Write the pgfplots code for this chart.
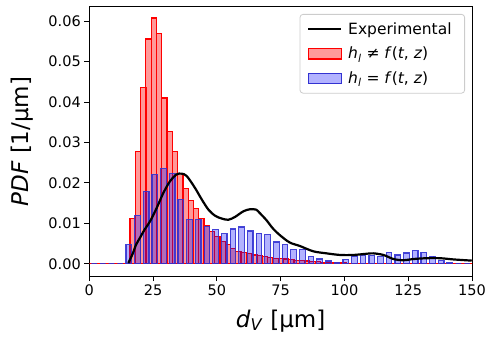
\documentclass[border=0pt]{standalone}
\usepackage{pgfplots}
\pgfplotsset{compat=1.18}
\usepackage{fontspec}
\setmainfont{DejaVu Sans}
\definecolor{bedge}{RGB}{50,50,210}
\definecolor{legframe}{RGB}{204,204,204}
\pgfplotsset{
  lineleg/.style={legend image code/.code={\draw[sharp corners,##1] (0bp,0bp) -- (33bp,0bp);}},
  patchleg/.style={legend image code/.code={\draw[sharp corners,##1] (0bp,-5.3bp) rectangle (33bp,5.3bp);}},
}
\begin{document}
\begin{tikzpicture}
\path[use as bounding box] (-89.3bp,-62bp) rectangle (397.7bp,276bp);
\begin{axis}[
  at={(0,0)}, anchor=south west,
  scale only axis, width=382.7bp, height=269bp,
  xmin=0, xmax=150, ymin=-0.003, ymax=0.0635,
  xtick={0,25,50,75,100,125,150},
  ytick={0,0.01,0.02,0.03,0.04,0.05,0.06},
  yticklabels={0.00,0.01,0.02,0.03,0.04,0.05,0.06},
  scaled y ticks=false,
  tick pos=left, tick align=outside,
  major tick length=5bp,
  axis line style={line width=1bp},
  every tick/.style={black, line width=1bp},
  /pgf/number format/assume math mode=true,
  tick label style={font=\fontsize{14.5bp}{17bp}\selectfont},
  every axis y label/.style={at={(axis description cs:-0.176,0.5)}, rotate=90, anchor=center},
  every axis x label/.style={at={(axis description cs:0.5,-0.167)}, anchor=center},
  label style={font=\fontsize{23bp}{27bp}\selectfont},
  ylabel={\textit{PDF} [1/μm]},
  xlabel={\textit{d}\textsubscript{\textit{V}} [μm]},
  legend cell align=left,
  legend style={at={(rel axis cs:0.9817,0.974)}, anchor=north east,
    draw=legframe, rounded corners=3bp, line width=0.8bp,
    font=\fontsize{15.5bp}{18bp}\selectfont, row sep=7.5bp,
    inner xsep=7bp, inner ysep=6bp,
    nodes={inner xsep=6bp}},
]
\addlegendimage{black, line width=2.2bp, lineleg}
\addlegendentry{Experimental}
\addlegendimage{fill=red, fill opacity=0.4, draw=red, line width=1.2bp, patchleg}
\addlegendentry{\textit{h}\textsubscript{\textit{l}} ≠ \textit{f}(\textit{t}, \textit{z})}
\addlegendimage{fill=blue, fill opacity=0.3, draw=bedge, line width=1.2bp, patchleg}
\addlegendentry{\textit{h}\textsubscript{\textit{l}} = \textit{f}(\textit{t}, \textit{z})}

% red histogram
\addplot[ybar, bar width=2.073, bar shift=0pt, fill=red, fill opacity=0.4, draw=red, line width=1.2bp, forget plot] coordinates {
(0.42,0) (2.49,0) (4.56,0) (6.64,0) (8.71,0) (10.78,0) (12.85,0) (14.93,0)
(17.00,0.0112) (19.07,0.0277) (21.15,0.0435) (23.22,0.0556) (25.29,0.0608)
(27.37,0.0570) (29.44,0.0410) (31.51,0.0328) (33.58,0.0277) (35.66,0.0223)
(37.73,0.0187) (39.80,0.0157) (41.88,0.0136) (43.95,0.0112) (46.02,0.0094)
(48.10,0.0080) (50.17,0.0068) (52.24,0.0056) (54.31,0.0047) (56.39,0.0037)
(58.46,0.0031) (60.53,0.0028) (62.61,0.0025) (64.68,0.0022) (66.75,0.0020)
(68.83,0.0018) (70.90,0.0016) (72.97,0.0014) (75.04,0.0013) (77.12,0.0012)
(79.19,0.0010) (81.26,0.0009) (83.34,0.0008) (85.41,0.0007) (87.48,0.0006)
(89.56,0.0005) (91.63,0.0004) (93.70,0.0003) (95.77,0.0003) (97.85,0.0002)
(99.92,0.0002) (101.99,0.0001) (104.07,0.0001) (106.14,0) (108.21,0)
(110.29,0) (112.36,0) (114.43,0) (116.50,0) (118.58,0) (120.65,0)
(122.72,0) (124.80,0) (126.87,0) (128.94,0) (131.02,0) (133.09,0)
(135.16,0) (137.23,0) (139.31,0) (141.38,0) (143.45,0) (145.53,0)
(147.60,0) (149.67,0)
};
% blue histogram
\addplot[ybar, bar width=2.2, bar shift=0pt, fill=blue, fill opacity=0.3, draw=bedge, draw opacity=0.9, line width=1.2bp, forget plot] coordinates {
(1.9,0) (5.3,0) (8.7,0) (12.1,0)
(15.5,0.0047) (18.9,0.0120) (22.3,0.0179) (25.7,0.0221) (29.1,0.0235)
(32.5,0.0223) (35.9,0.0160) (39.3,0.0109) (42.7,0.0110) (46.1,0.0093)
(49.5,0.0085) (52.9,0.0075) (56.3,0.0086) (59.7,0.0091) (63.1,0.0081)
(66.5,0.0076) (69.9,0.0072) (73.3,0.0054) (76.7,0.0047) (80.1,0.0036)
(83.5,0.0036) (86.9,0.0019) (90.3,0.0012) (93.7,0.0007) (97.1,0.0004)
(100.5,0.0011) (103.9,0.0019) (107.3,0.0020) (110.7,0.0021) (114.1,0.0018)
(117.5,0.0029) (120.9,0.0022) (124.3,0.0027) (127.7,0.0033) (131.1,0.0029)
(134.5,0.0019) (137.9,0.0008) (141.3,0.0002) (144.7,0) (148.1,0)
};
% experimental
\addplot[black, line width=2.2bp, smooth, tension=0.5, mark=none, forget plot] coordinates {
(15.3,0.0002) (17,0.0025) (18.3,0.0047) (20,0.0066) (21.6,0.0084) (23.8,0.0105)
(26.4,0.0138) (29.0,0.0175) (31.6,0.0204) (34.2,0.0221) (36.2,0.0223)
(38.2,0.0217) (41.4,0.0188) (44.1,0.0159) (46.7,0.0134) (49.3,0.0119)
(51.9,0.0112) (54.5,0.0109) (57.1,0.0116) (60.4,0.0130) (63.0,0.0135)
(65.4,0.0134) (66.6,0.0127) (69.3,0.0109) (71.9,0.0088) (74.5,0.0072)
(78.5,0.0053) (82.6,0.0044) (87.8,0.0031) (93.0,0.0026) (98.3,0.0022)
(103.5,0.0022) (108.7,0.0025) (111.4,0.0026) (115.3,0.0022) (119.2,0.0012)
(123.1,0.0009) (127.0,0.0012) (132.3,0.0014) (137.5,0.0014) (142.7,0.0011)
(149.9,0.0008)
};
\end{axis}
\end{tikzpicture}
\end{document}
